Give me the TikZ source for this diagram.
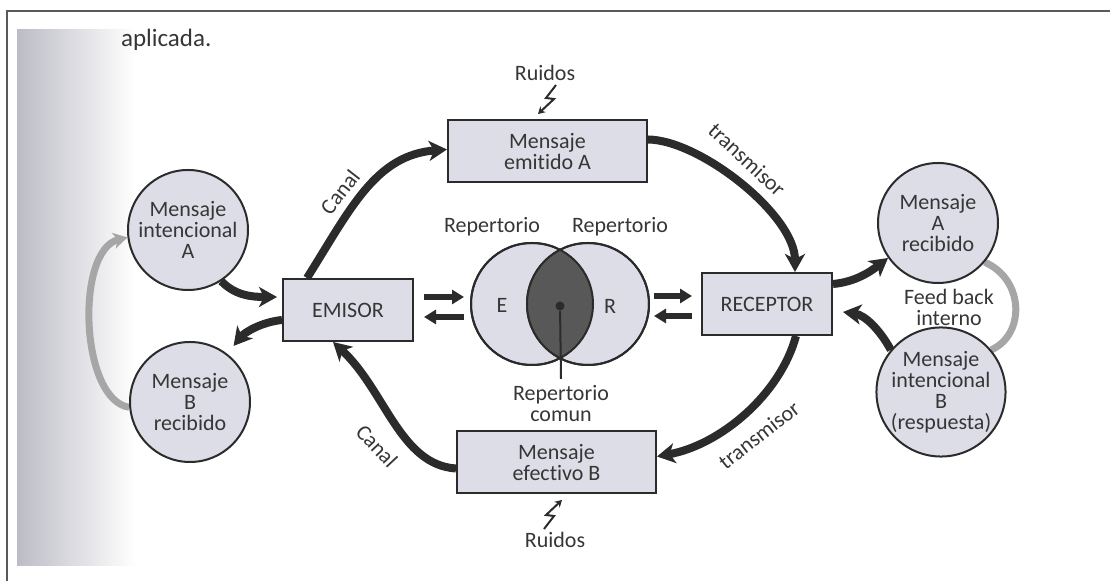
\documentclass[tikz,border=0pt]{standalone}
\usepackage{fontspec}
\setmainfont{Carlito}[Ligatures={NoCommon}]
\usetikzlibrary{arrows.meta,positioning,calc,backgrounds}
\definecolor{ink}{HTML}{2B2B2B}
\definecolor{txt}{HTML}{363636}
\definecolor{pale}{HTML}{DCDDE7}
\definecolor{lens}{HTML}{585858}
\definecolor{feed}{HTML}{A6A6A6}
\definecolor{shadow}{HTML}{BCBCC6}
\tikzset{
  >={Stealth[length=9pt,width=10pt,inset=2.5pt]},
  every node/.style={font=\fontsize{11}{10.5}\selectfont,text=txt,align=center},
  msg/.style={circle,draw=ink,line width=1pt,fill=pale,minimum size=60pt,inner sep=0pt},
  box/.style={draw=ink,line width=1pt,fill=pale,minimum width=65pt,minimum height=31pt,inner sep=1pt},
  wbox/.style={box,minimum width=99.5pt},
  venn/.style={circle,draw=ink,line width=1pt,fill=pale,minimum size=61pt,inner sep=0pt},
  flow/.style={->,draw=ink,line width=4pt},
  swap/.style={-{Triangle[length=6pt,width=7pt]},draw=ink,line width=2.6pt},
  fb/.style={draw=feed,line width=3.5pt},
  zap/.style={-{Stealth[length=3.5pt,width=4pt]},draw=ink,line width=1pt},
}

\begin{document}
\begin{tikzpicture}[x=0.5pt,y=-0.5pt]
\useasboundingbox (0,0) rectangle (1110,581);
\draw[gray!70!black,line width=1.2pt] (7,581) -- (7,11) -- (1110,11);
\node[font=\fontsize{12.5}{12.5}\selectfont,anchor=west] (head) at (114,40) {aplicada.};

% mensajes y actores
\node[msg] (mia) at (188,230) {Mensaje\\intencional\\A};
\node[msg] (mbr) at (190,402) {Mensaje\\B\\recibido};
\node[msg] (mar) at (938,223) {Mensaje\\A\\recibido};
\node[msg] (mib) at (941,392) {Mensaje\\intencional\\B\\(respuesta)};
\node[box] (emisor) at (348,310) {EMISOR};
\node[box] (receptor) at (767,304) {RECEPTOR};
\node[wbox] (emitido) at (547.5,151.5) {Mensaje\\emitido A};
\node[wbox] (efectivo) at (556.5,462.5) {Mensaje\\efectivo B};

% repertorios
\node[venn] (repE) at (532,304) {};
\node[venn] (repR) at (588,304) {};
\begin{scope}
  \clip (repE.center) circle[radius=30.5pt];
  \fill[lens] (repR.center) circle[radius=30.5pt];
\end{scope}
\draw[ink,line width=1pt] (repE.center) circle[radius=30.5pt] (repR.center) circle[radius=30.5pt];
\node (lblE) at (502,305) {E};
\node (lblR) at (610,306) {R};
\node (repLE) at (492,227) {Repertorio};
\node (repLR) at (620,227) {Repertorio};
\node[circle,fill=ink,inner sep=0pt,minimum size=4.5pt] (core) at (560,306) {};
\node (comun) at (561,404) {Repertorio\\comun};
\draw[ink,line width=1pt] (core) -- (comun.north);

\draw[swap] ([shift={(5pt,6.5pt)}]emisor.east) -- ([shift={(-3pt,3.5pt)}]repE.west);
\draw[swap] ([shift={(-3pt,-6.5pt)}]repE.west) -- ([shift={(5pt,-3.5pt)}]emisor.east);
\draw[swap] ([shift={(2pt,4pt)}]repR.east) -- ([shift={(-4.5pt,4pt)}]receptor.west);
\draw[swap] ([shift={(-4.5pt,-6pt)}]receptor.west) -- ([shift={(2pt,-6pt)}]repR.east);

% circuito
\draw[flow] ([xshift=-20.5pt]emisor.north) .. controls (350,210) and (375,155) .. ([yshift=1pt]emitido.west);
\draw[flow] ([yshift=6pt]emitido.east) .. controls (700,140) and (795,215) .. ([xshift=14pt]receptor.north);
\draw[flow] ([xshift=14.5pt]receptor.south) .. controls (780,395) and (720,445) .. ([yshift=3pt]efectivo.east);
\draw[flow] ([yshift=-3pt]efectivo.west) .. controls (400,465) and (385,390) .. ([xshift=-7.5pt]emisor.south);
\draw[flow] (mia.-57) .. controls (235,295) and (250,297) .. ([shift={(-2.5pt,6.5pt)}]emisor.west);
\draw[flow] ([yshift=-5pt]emisor.west) .. controls (262,322) and (245,332) .. ([shift={(3pt,4pt)}]mbr.52);
\draw[flow] ([yshift=10pt]receptor.east) .. controls (855,282) and (870,272) .. (mar.215);
\draw[flow] (mib.140) .. controls (880,330) and (865,315) .. ([shift={(5pt,-4pt)}]receptor.east);

\node[rotate=52] (canalA) at (340,192) {Canal};
\node[rotate=-43] (transA) at (747,160) {transmisor};
\node[rotate=38] (transB) at (759,435) {transmisor};
\node[rotate=-47] (canalB) at (377,446) {Canal};
\node (feedlbl) at (949,307) {Feed back\\interno};

% ruidos
\node (ruidoA) at (545,73) {Ruidos};
\node (ruidoB) at (555,540) {Ruidos};
\draw[zap] (556,85) -- (546,98) -- (554,99) -- (538,114);
\draw[zap] (544,529) -- (554,516) -- (546,515) -- (562,500);

\begin{scope}[on background layer]
  \shade[left color=shadow,right color=white] (17,30) rectangle (135,566);
  \draw[fb,-{Stealth[length=7pt,width=8pt,inset=2pt]}] (mbr.185) .. controls (80,400) and (75,250) .. (mia.187);
  \draw[fb] (mar.-40) .. controls (1025,280) and (1025,335) .. (mib.40);
\end{scope}
\end{tikzpicture}
\end{document}
